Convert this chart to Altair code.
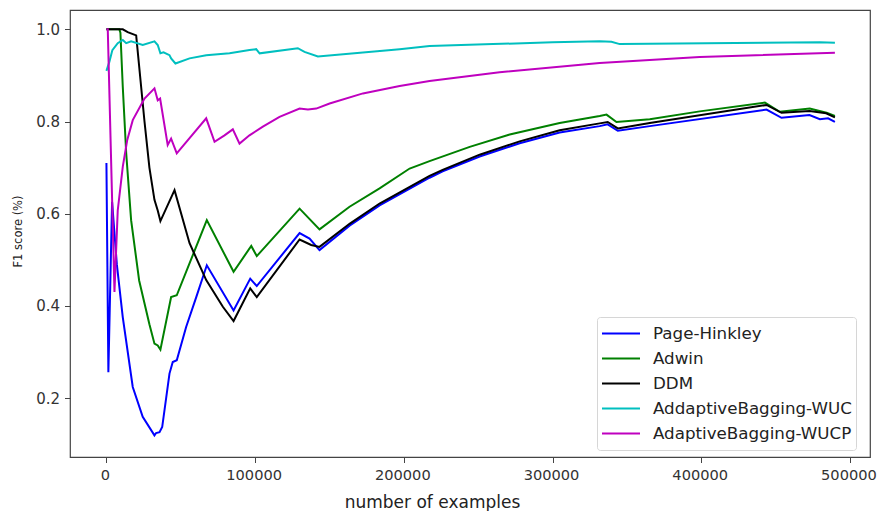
import altair as alt
import pandas as pd

SERIES = ["Page-Hinkley", "Adwin", "DDM", "AddaptiveBagging-WUC", "AdaptiveBagging-WUCP"]
COLORS = ["#0000ff", "#008000", "#000000", "#00bfbf", "#bf00bf"]

PH_X = [0, 1300, 3800, 7000, 11000, 17700, 24400, 32300, 33400, 35700, 37500, 42400, 44600, 47300, 53600,
        60400, 67500, 85500, 96700, 101100, 129900, 136600, 143300, 163500, 183700, 217300, 226100, 251000,
        277900, 304800, 331700, 337100, 343900, 365400, 443900, 454000, 472800, 479800, 485300, 489900]
PH_Y = [0.71, 0.256, 0.626, 0.49, 0.375, 0.224, 0.159, 0.119, 0.124, 0.126, 0.137, 0.253, 0.278, 0.282, 0.354,
        0.419, 0.488, 0.39, 0.459, 0.443, 0.558, 0.546, 0.521, 0.574, 0.618, 0.678, 0.692, 0.724,
        0.753, 0.776, 0.790, 0.794, 0.780, 0.790, 0.826, 0.808, 0.814, 0.805, 0.807, 0.799]

AD_X = [0, 8700, 9400, 11000, 13300, 16600, 22000, 28900, 32300, 34500, 36300, 43500, 47300, 67500, 85500,
        97400, 101100, 129900, 143300, 163500, 183700, 203900, 217300, 244300, 271200, 304800, 331700,
        336300, 343000, 365400, 399000, 442800, 452800, 473000, 484300, 489900]
AD_Y = [1.0, 1.0, 0.993, 0.875, 0.731, 0.586, 0.455, 0.36, 0.318, 0.314, 0.305, 0.419, 0.423, 0.586, 0.474,
        0.530, 0.508, 0.611, 0.566, 0.615, 0.655, 0.698, 0.714, 0.745, 0.772, 0.797, 0.812,
        0.815, 0.799, 0.805, 0.822, 0.841, 0.821, 0.828, 0.819, 0.812]

DDM_X = [0, 11000, 14300, 20000, 25600, 28900, 32300, 34500, 36300, 45800, 55900, 67100, 78300, 85500, 96700,
         101100, 129900, 137700, 143300, 163500, 183700, 217300, 226100, 251000, 277900, 304800, 331700,
         337100, 343900, 365400, 443900, 454000, 472800, 484000, 489900]
DDM_Y = [1.0, 1.0, 0.994, 0.987, 0.80, 0.70, 0.63, 0.607, 0.584, 0.651, 0.536, 0.456, 0.398, 0.367, 0.438,
         0.419, 0.544, 0.532, 0.528, 0.578, 0.622, 0.682, 0.695, 0.728, 0.757, 0.781, 0.796,
         0.799, 0.785, 0.797, 0.836, 0.819, 0.823, 0.818, 0.809]

WUC_X = [0, 2000, 4000, 7600, 11000, 13300, 16600, 24400, 32300, 34500, 36300, 38400, 42400, 43500, 46400,
         55900, 67100, 82800, 96200, 100700, 103000, 128700, 133200, 142200, 197200, 217300, 260000, 300000,
         331700, 339600, 345200, 479800, 489900]
WUC_Y = [0.91, 0.93, 0.955, 0.970, 0.977, 0.970, 0.974, 0.966, 0.974, 0.966, 0.948, 0.950, 0.944, 0.937, 0.926,
         0.937, 0.944, 0.948, 0.955, 0.957, 0.948, 0.959, 0.951, 0.941, 0.957, 0.964, 0.968, 0.972,
         0.974, 0.973, 0.968, 0.972, 0.971]

WUCP_X = [0, 900, 5400, 7600, 11000, 14000, 17700, 25600, 32300, 34500, 36100, 41200, 43500, 47300, 67100,
          72700, 79400, 85000, 89500, 96200, 105200, 116400, 129900, 135500, 141100, 150100, 172500, 197200,
          217300, 264400, 331700, 399000, 489900]
WUCP_Y = [1.0, 1.0, 0.430, 0.607, 0.702, 0.76, 0.803, 0.850, 0.872, 0.846, 0.850, 0.749, 0.763, 0.731, 0.807,
          0.756, 0.770, 0.783, 0.752, 0.770, 0.789, 0.810, 0.828, 0.826, 0.828, 0.839, 0.861, 0.877,
          0.888, 0.907, 0.927, 0.940, 0.949]

X_TICKS = [0, 100000, 200000, 300000, 400000, 500000]
Y_TICKS = [0.2, 0.4, 0.6, 0.8, 1.0]

rows = []
for name, xs, ys in zip(SERIES, [PH_X, AD_X, DDM_X, WUC_X, WUCP_X], [PH_Y, AD_Y, DDM_Y, WUC_Y, WUCP_Y]):
    assert len(xs) == len(ys), name
    for i, (xv, yv) in enumerate(zip(xs, ys)):
        rows.append({"series": name, "x": xv, "y": yv, "i": i})
df = pd.DataFrame(rows)

FONT = "DejaVu Sans"

chart = alt.Chart(df).mark_line(strokeWidth=2, clip=True).encode(
    x=alt.X("x:Q", scale=alt.Scale(domain=[-24500, 513500], nice=False, zero=False),
            axis=alt.Axis(values=X_TICKS, format="d", title="number of examples", grid=False,
                          labelFontSize=14.6, labelOffset=-1.5,
                          titleX=362, titleY=50, titleAlign="center", titleBaseline="alphabetic",
                          titleFontSize=17, titleFontWeight="normal")),
    y=alt.Y("y:Q", scale=alt.Scale(domain=[0.072, 1.042], nice=False, zero=False),
            axis=alt.Axis(values=Y_TICKS, format=".1f", title="F1 score (%)", grid=False,
                          titleX=-52, titleY=221, titleAlign="center", titleBaseline="middle",
                          titleFontSize=11.5, titleFontWeight="normal")),
    color=alt.Color("series:N", scale=alt.Scale(domain=SERIES, range=COLORS), sort=SERIES,
                    legend=alt.Legend(title=None, orient="none", legendX=527, legendY=307,
                                      symbolType="stroke", symbolSize=1444, symbolStrokeWidth=2,
                                      labelFontSize=16.7, labelFont=FONT, labelColor="#222", labelLimit=400,
                                      clipHeight=25, rowPadding=0, padding=4, labelOffset=12,
                                      fillColor="white", strokeColor="#d6d6d6", cornerRadius=3)),
    order="i:Q",
).properties(
    width=800, height=447,
    autosize=alt.AutoSizeParams(type="none"),
    padding={"left": 62, "top": 2, "right": 7, "bottom": 54},
).configure_axis(
    labelFont=FONT, titleFont=FONT, labelFontSize=15, labelColor="#333", titleColor="#222",
    tickColor="#444", tickSize=5.5, tickWidth=1, domain=False, labelPadding=5,
).configure_view(
    stroke="#444", strokeWidth=1.2,
)

chart.save("out.html", embed_options={"renderer": "svg", "actions": False})
